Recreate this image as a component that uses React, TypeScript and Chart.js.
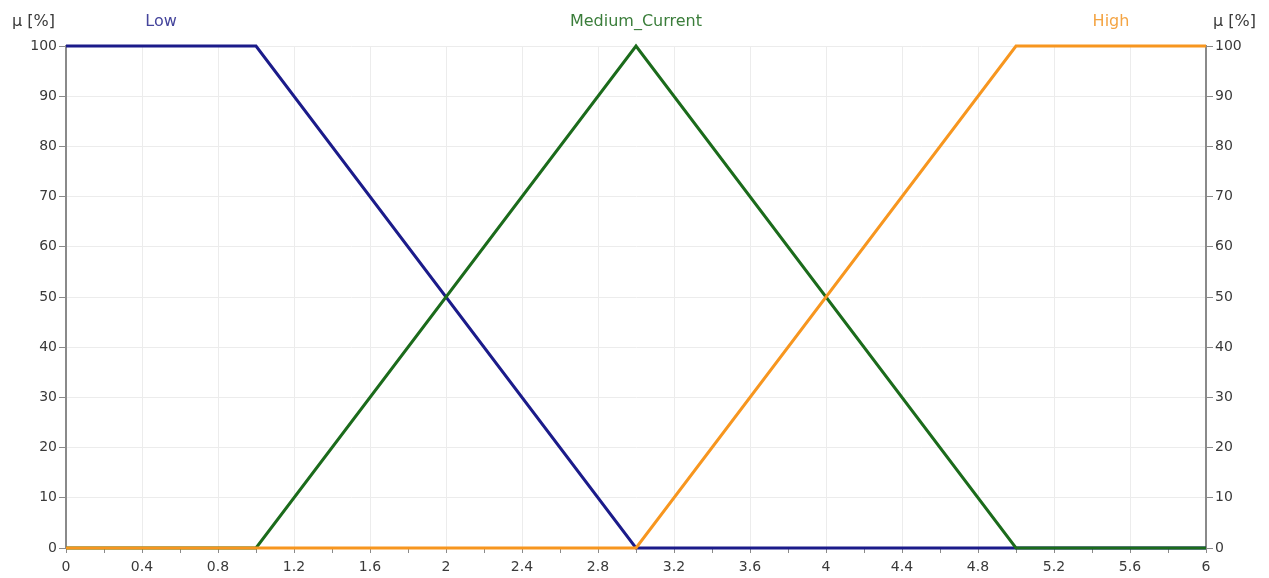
import React, { useEffect, useRef } from "react";
import { Chart, registerables } from "chart.js";

Chart.register(...registerables);

// Membership functions of the current input (x in A, y in %)
const lowX = [0, 1, 3, 6];
const lowY = [100, 100, 0, 0];
const mediumX = [0, 1, 3, 5, 6];
const mediumY = [0, 0, 100, 0, 0];
const highX = [0, 3, 5, 6];
const highY = [0, 0, 100, 100];

const setNames = ["Low", "Medium_Current", "High"];
const setLabelAt = [0.5, 3, 5.5];
const setColors = ["#1b1b8a", "#1b6b1b", "#f7961f"];
const setLabelColors = ["#45459c", "#3a7d3a", "#f4a443"];
const axisUnit = "μ [%]";

const FONT = "'DejaVu Sans', Verdana, sans-serif";
const TEXT = "#3a3a3a";

const pts = (xs: number[], ys: number[]) => xs.map((x, i) => ({ x, y: ys[i] }));

const topLabels = {
  id: "topLabels",
  afterDraw(chart: any) {
    const { ctx, scales, chartArea } = chart;
    ctx.save();
    ctx.font = `16px ${FONT}`;
    ctx.textBaseline = "middle";
    ctx.textAlign = "center";
    setNames.forEach((n, i) => {
      ctx.fillStyle = setLabelColors[i];
      ctx.fillText(n, scales.x.getPixelForValue(setLabelAt[i]), 22);
    });
    ctx.fillStyle = TEXT;
    ctx.textAlign = "right";
    ctx.fillText(axisUnit, chartArea.left - 11, 22);
    ctx.textAlign = "left";
    ctx.fillText(axisUnit, chartArea.right + 7, 22);
    ctx.restore();
  },
};

export default function App() {
  const ref = useRef<HTMLCanvasElement>(null);

  useEffect(() => {
    const mk = (label: string, data: any, color: string, order: number) => ({
      label,
      data,
      borderColor: color,
      backgroundColor: color,
      borderWidth: 3,
      pointRadius: 0,
      showLine: true,
      fill: false,
      tension: 0,
      clip: 6,
      order,
    });
    const tickColor = "#8a8a8a";
    const gridColor = "#ececec";
    const tickFont = { family: FONT, size: 14 };
    const chart = new Chart(ref.current!, {
      type: "scatter",
      data: {
        datasets: [
          mk(setNames[0], pts(lowX, lowY), setColors[0], 3),
          mk(setNames[1], pts(mediumX, mediumY), setColors[1], 2),
          mk(setNames[2], pts(highX, highY), setColors[2], 1),
        ],
      },
      options: {
        animation: false,
        responsive: false,
        maintainAspectRatio: false,
        layout: { padding: { top: 46, left: 0, right: 0, bottom: 0 } },
        plugins: { legend: { display: false }, tooltip: { enabled: false } },
        scales: {
          x: {
            type: "linear",
            min: 0,
            max: 6,
            afterFit: (s: any) => {
              s.height = 30;
            },
            afterBuildTicks: (s: any) => {
              const t = [];
              for (let i = 0; i <= 30; i++) t.push({ value: i * 0.2 });
              s.ticks = t;
            },
            ticks: {
              autoSkip: false,
              maxRotation: 0,
              padding: 6,
              color: TEXT,
              font: tickFont,
              callback: (v: any, i: number) =>
                i % 2 === 0 ? String(Math.round(Number(v) * 10) / 10) : "",
            },
            grid: {
              drawOnChartArea: true,
              color: (c: any) => (c.index % 2 === 0 ? gridColor : "rgba(0,0,0,0)"),
              tickColor: tickColor,
              tickLength: 5,
              lineWidth: 1,
            },
            border: { display: true, color: tickColor, width: 1 },
          },
          y: {
            position: "left",
            min: 0,
            max: 100,
            afterFit: (s: any) => {
              s.width = 66;
            },
            ticks: {
              stepSize: 10,
              padding: 2,
              color: TEXT,
              font: tickFont,
            },
            grid: { color: gridColor, tickColor: tickColor, tickLength: 7 },
            border: { display: true, color: tickColor, width: 2 },
          },
          y2: {
            position: "right",
            min: 0,
            max: 100,
            afterFit: (s: any) => {
              s.width = 63;
            },
            ticks: {
              stepSize: 10,
              padding: 2,
              color: TEXT,
              font: tickFont,
            },
            grid: { drawOnChartArea: false, tickColor: tickColor, tickLength: 7 },
            border: { display: true, color: tickColor, width: 2 },
          },
        },
      },
      plugins: [topLabels],
    } as any);
    return () => chart.destroy();
  }, []);

  return (
    <div style={{ position: "fixed", left: 0, top: 0, width: 1269, height: 578, background: "#fff" }}>
      <canvas ref={ref} width={1269} height={578} style={{ display: "block" }} />
    </div>
  );
}
